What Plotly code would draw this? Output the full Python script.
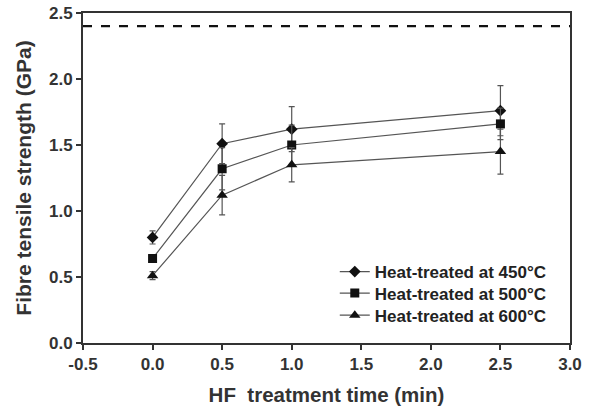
import plotly.graph_objects as go

time_min = [0.0, 0.5, 1.0, 2.5]
s450 = [0.80, 1.51, 1.62, 1.76]
e450 = [0.05, 0.15, 0.17, 0.19]
s500 = [0.64, 1.32, 1.50, 1.66]
e500 = [0.03, 0.16, 0.15, 0.12]
s600 = [0.51, 1.12, 1.35, 1.45]
e600 = [0.03, 0.15, 0.13, 0.17]
ref_strength = 2.40
names = ["Heat-treated at 450°C", "Heat-treated at 500°C", "Heat-treated at 600°C"]
symbols = ["diamond", "square", "triangle-up"]
sizes = [9, 9, 10]
legend_ids = ["legend", "legend2", "legend3"]
legend_y = [0.215, 0.150, 0.083]

FONT = "Liberation Sans, Arial, sans-serif"

fig = go.Figure()
for name, y, e, sym, sz, lg in zip(names, [s450, s500, s600], [e450, e500, e600], symbols, sizes, legend_ids):
    fig.add_trace(go.Scatter(
        x=time_min, y=y, name="<b>" + name + "</b>", mode="lines+markers",
        line=dict(color="#555555", width=1.2),
        marker=dict(symbol=sym, size=sz, color="#111111"),
        error_y=dict(type="data", array=e, visible=True, color="#555555", thickness=1.2, width=3),
        legend=lg,
    ))

fig.add_shape(type="line", xref="paper", x0=0, x1=1, yref="y", y0=ref_strength, y1=ref_strength,
              line=dict(color="#111111", width=2.2, dash="dash"))

ticks_x = [-0.5, 0, 0.5, 1.0, 1.5, 2.0, 2.5, 3.0]
ticks_y = [0, 0.5, 1.0, 1.5, 2.0, 2.5]

legend_common = dict(xanchor="left", yanchor="middle", x=0.517,
                     font=dict(size=17, color="#222222", family=FONT),
                     bgcolor="rgba(0,0,0,0)", itemwidth=30)

fig.update_layout(
    width=589, height=409,
    margin=dict(l=83, r=19, t=13, b=66, autoexpand=False),
    paper_bgcolor="white", plot_bgcolor="white",
    font=dict(family=FONT, color="#333333"),
    showlegend=True,
    legend=dict(y=legend_y[0], **legend_common),
    legend2=dict(y=legend_y[1], **legend_common),
    legend3=dict(y=legend_y[2], **legend_common),
)
fig.update_xaxes(
    range=[-0.5, 3.0], tickvals=ticks_x,
    ticktext=["<b>%.1f</b>" % v for v in ticks_x],
    tickfont=dict(size=17, color="#333333", family=FONT),
    showline=True, linecolor="#333333", linewidth=2, mirror=True,
    ticks="outside", ticklen=5, tickcolor="#333333", tickwidth=1.5,
    showgrid=False, zeroline=False, automargin=False,
    title=dict(text="<b>HF  treatment time (min)</b>", font=dict(size=20.5, color="#333333", family=FONT), standoff=14),
)
fig.update_yaxes(
    range=[0, 2.5], tickvals=ticks_y,
    ticktext=["<b>%.1f</b>" % v for v in ticks_y],
    tickfont=dict(size=17, color="#333333", family=FONT),
    showline=True, linecolor="#333333", linewidth=2, mirror=True,
    ticks="outside", ticklen=5, tickcolor="#333333", tickwidth=1.5,
    showgrid=False, zeroline=False, automargin=False,
    title=dict(text="<b>Fibre tensile strength (GPa)</b>", font=dict(size=21, color="#333333", family=FONT), standoff=12),
)

fig.write_html("out.html")
